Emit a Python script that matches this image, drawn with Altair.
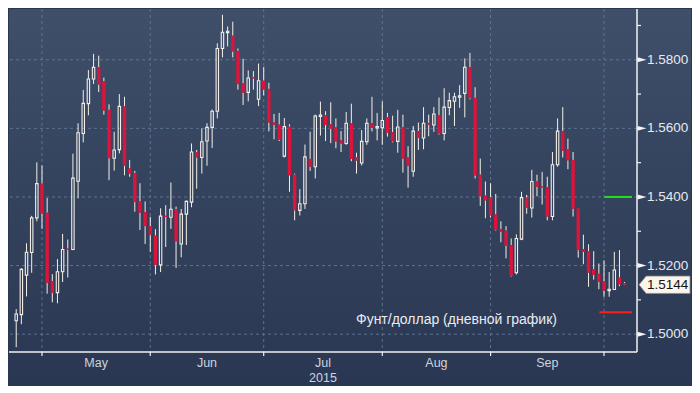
import altair as alt
import pandas as pd

# ---------------- data ----------------
opens = [1.5039, 1.5057, 1.5172, 1.5238, 1.5339, 1.5439, 1.5354, 1.5155, 1.5121, 1.5182,
         1.5249, 1.5247, 1.5446, 1.5585, 1.5672, 1.5744, 1.5778, 1.5737, 1.5654, 1.5513,
         1.5538, 1.5664, 1.5483, 1.5470, 1.5387, 1.5356, 1.5315, 1.5287, 1.5202, 1.5345,
         1.5341, 1.5364, 1.5263, 1.5350, 1.5385, 1.5531, 1.5515, 1.5563, 1.5603, 1.5650,
         1.5833, 1.5879, 1.5870, 1.5826, 1.5731, 1.5705, 1.5749, 1.5685, 1.5739, 1.5715,
         1.5617, 1.5611, 1.5519, 1.5605, 1.5465, 1.5361, 1.5380, 1.5511, 1.5488, 1.5635,
         1.5639, 1.5612, 1.5603, 1.5565, 1.5556, 1.5615, 1.5515, 1.5499, 1.5561, 1.5615,
         1.5602, 1.5602, 1.5632, 1.5589, 1.5562, 1.5604, 1.5515, 1.5475, 1.5592, 1.5572,
         1.5616, 1.5610, 1.5638, 1.5585, 1.5661, 1.5679, 1.5691, 1.5702, 1.5778, 1.5689,
         1.5465, 1.5404, 1.5399, 1.5349, 1.5306, 1.5302, 1.5260, 1.5179, 1.5277, 1.5398,
         1.5368, 1.5445, 1.5430, 1.5428, 1.5343, 1.5494, 1.5592, 1.5539, 1.5508, 1.5367,
         1.5248, 1.5242, 1.5190, 1.5176, 1.5154, 1.5127, 1.5130, 1.5165, 1.5149]
highs = [1.5073, 1.5192, 1.5265, 1.5345, 1.5501, 1.5492, 1.5397, 1.5175, 1.5219, 1.5292,
         1.5276, 1.5526, 1.5615, 1.5712, 1.5770, 1.5817, 1.5812, 1.5748, 1.5670, 1.5590,
         1.5700, 1.5692, 1.5508, 1.5476, 1.5440, 1.5387, 1.5342, 1.5306, 1.5367, 1.5376,
         1.5442, 1.5372, 1.5365, 1.5390, 1.5556, 1.5537, 1.5600, 1.5615, 1.5655, 1.5848,
         1.5931, 1.5897, 1.5911, 1.5833, 1.5803, 1.5769, 1.5767, 1.5789, 1.5779, 1.5733,
         1.5642, 1.5645, 1.5630, 1.5612, 1.5468, 1.5423, 1.5553, 1.5590, 1.5640, 1.5678,
         1.5650, 1.5676, 1.5629, 1.5592, 1.5648, 1.5672, 1.5529, 1.5595, 1.5629, 1.5692,
         1.5645, 1.5679, 1.5645, 1.5637, 1.5654, 1.5640, 1.5548, 1.5607, 1.5617, 1.5662,
         1.5640, 1.5662, 1.5690, 1.5717, 1.5704, 1.5704, 1.5726, 1.5804, 1.5820, 1.5720,
         1.5512, 1.5445, 1.5440, 1.5409, 1.5329, 1.5315, 1.5279, 1.5291, 1.5415, 1.5406,
         1.5479, 1.5465, 1.5473, 1.5459, 1.5531, 1.5629, 1.5662, 1.5570, 1.5531, 1.5367,
         1.5290, 1.5262, 1.5242, 1.5206, 1.5215, 1.5181, 1.5240, 1.5245, 1.5152]
lows = [1.4962, 1.5029, 1.5110, 1.5179, 1.5329, 1.5307, 1.5118, 1.5093, 1.5090, 1.5152,
        1.5165, 1.5245, 1.5396, 1.5559, 1.5638, 1.5729, 1.5706, 1.5640, 1.5449, 1.5477,
        1.5527, 1.5463, 1.5459, 1.5357, 1.5304, 1.5263, 1.5240, 1.5174, 1.5181, 1.5254,
        1.5307, 1.5193, 1.5224, 1.5260, 1.5370, 1.5424, 1.5468, 1.5491, 1.5543, 1.5629,
        1.5807, 1.5839, 1.5807, 1.5713, 1.5668, 1.5679, 1.5713, 1.5665, 1.5696, 1.5591,
        1.5568, 1.5563, 1.5515, 1.5415, 1.5332, 1.5346, 1.5365, 1.5476, 1.5454, 1.5579,
        1.5563, 1.5557, 1.5542, 1.5531, 1.5552, 1.5504, 1.5468, 1.5492, 1.5552, 1.5591,
        1.5565, 1.5552, 1.5576, 1.5559, 1.5529, 1.5471, 1.5427, 1.5459, 1.5537, 1.5539,
        1.5577, 1.5590, 1.5582, 1.5565, 1.5638, 1.5607, 1.5660, 1.5632, 1.5685, 1.5454,
        1.5374, 1.5338, 1.5340, 1.5302, 1.5268, 1.5221, 1.5168, 1.5174, 1.5274, 1.5351,
        1.5340, 1.5402, 1.5378, 1.5332, 1.5332, 1.5488, 1.5515, 1.5481, 1.5343, 1.5223,
        1.5204, 1.5138, 1.5159, 1.5131, 1.5109, 1.5109, 1.5130, 1.5140, 1.5143]
closes = [1.5059, 1.5189, 1.5239, 1.5339, 1.5439, 1.5351, 1.5149, 1.5121, 1.5182, 1.5247,
          1.5247, 1.5455, 1.5587, 1.5673, 1.5744, 1.5778, 1.5728, 1.5652, 1.5513, 1.5537,
          1.5664, 1.5491, 1.5468, 1.5385, 1.5354, 1.5315, 1.5290, 1.5202, 1.5344, 1.5342,
          1.5364, 1.5271, 1.5350, 1.5387, 1.5531, 1.5515, 1.5561, 1.5603, 1.5650, 1.5833,
          1.5880, 1.5883, 1.5824, 1.5729, 1.5704, 1.5747, 1.5746, 1.5739, 1.5713, 1.5617,
          1.5610, 1.5567, 1.5605, 1.5463, 1.5361, 1.5380, 1.5517, 1.5488, 1.5636, 1.5639,
          1.5610, 1.5599, 1.5562, 1.5556, 1.5615, 1.5511, 1.5506, 1.5562, 1.5615, 1.5601,
          1.5605, 1.5623, 1.5587, 1.5562, 1.5604, 1.5512, 1.5491, 1.5592, 1.5572, 1.5615,
          1.5610, 1.5642, 1.5585, 1.5662, 1.5681, 1.5692, 1.5695, 1.5778, 1.5688, 1.5463,
          1.5402, 1.5390, 1.5346, 1.5304, 1.5299, 1.5257, 1.5170, 1.5279, 1.5398, 1.5369,
          1.5445, 1.5429, 1.5428, 1.5343, 1.5494, 1.5592, 1.5534, 1.5507, 1.5366, 1.5245,
          1.5240, 1.5179, 1.5173, 1.5152, 1.5127, 1.5131, 1.5187, 1.5145, 1.5144]

month_starts = [5, 26, 48, 71, 92, 114]          # trading-day index of month boundaries
month_labels = ["May", "Jun", "Jul", "Aug", "Sep"]
month_label_pos = [15.5, 37, 59.5, 81.5, 103]
year_label = ["2015"]
year_label_pos = [59.5]

grid_levels = [1.50, 1.52, 1.54, 1.56, 1.58]
tick_levels = [1.50, 1.51, 1.52, 1.53, 1.54, 1.55, 1.56, 1.57, 1.58, 1.59]

last_price = [1.5144]
level_lines = [1.54, 1.5064]
level_from = [114.1, 113.1]
level_colors = ["#22e01e", "#ff1e1e"]

caption = ["Фунт/доллар (дневной график)"]
caption_x = [65.9]
caption_y = [1.5041]

X_DOMAIN = [-0.43, 119.43]
Y_DOMAIN = [1.4948, 1.5948]
W, H = 628, 343

# ---------------- frames ----------------
n = len(opens)
df = pd.DataFrame({"i": list(range(n)), "o": opens, "h": highs, "l": lows, "c": closes})
df["top"] = df[["o", "c"]].max(axis=1)
df["bot"] = df[["o", "c"]].min(axis=1)
mid = (df["top"] + df["bot"]) / 2
thin = (df["top"] - df["bot"]) < 0.0004
df["b1"] = df["top"].where(~thin, mid + 0.0002)
df["b2"] = df["bot"].where(~thin, mid - 0.0002)
df["up"] = df["c"] >= df["o"]

xs = alt.Scale(domain=X_DOMAIN, nice=False, zero=False)
ys = alt.Scale(domain=Y_DOMAIN, nice=False, zero=False)

FONT = "Liberation Sans"
AXC = "#f2f2f2"

bg = alt.Chart(pd.DataFrame({"a": [0]})).mark_rect(
    color=alt.Gradient(
        gradient="linear",
        stops=[alt.GradientStop(color="#3f4f6a", offset=0),
               alt.GradientStop(color="#36455f", offset=0.4),
               alt.GradientStop(color="#2a3752", offset=1)],
        x1=0, x2=0, y1=0, y2=1)
).encode(x=alt.value(0), x2=alt.value(W + 54), y=alt.value(0), y2=alt.value(H + 34))

GRID = "#5a7491"
hgrid = alt.Chart(pd.DataFrame({"v": grid_levels})).mark_rule(
    color=GRID, strokeDash=[3, 3], strokeWidth=1
).encode(y=alt.Y("v:Q", scale=ys, axis=None))
vgrid = alt.Chart(pd.DataFrame({"m": month_starts})).mark_rule(
    color=GRID, strokeDash=[3, 3], strokeWidth=1
).encode(x=alt.X("m:Q", scale=xs, axis=None))

# axes drawn as marks (domain lines, ticks, labels)
x_domain_line = alt.Chart(pd.DataFrame({"a": [0]})).mark_rule(color=AXC, strokeWidth=1.5).encode(
    x=alt.value(0), x2=alt.value(W), y=alt.value(H))
y_domain_line = alt.Chart(pd.DataFrame({"a": [0]})).mark_rule(color=AXC, strokeWidth=1.5).encode(
    x=alt.value(W), y=alt.value(0), y2=alt.value(H))
x_ticks = alt.Chart(pd.DataFrame({"m": month_starts})).mark_rule(color=AXC, strokeWidth=1.2).encode(
    x=alt.X("m:Q", scale=xs, axis=None), y=alt.value(H), y2=alt.value(H + 4))
y_ticks = alt.Chart(pd.DataFrame({"v": tick_levels})).mark_rule(color=AXC, strokeWidth=1.2).encode(
    y=alt.Y("v:Q", scale=ys, axis=None), x=alt.value(W), x2=alt.value(W + 4))
y_labels = alt.Chart(pd.DataFrame({"v": grid_levels})).mark_text(
    align="left", baseline="middle", fontSize=13.5, font=FONT, color="#e6eaf0"
).encode(x=alt.value(W + 10), y=alt.Y("v:Q", scale=ys, axis=None),
         text=alt.Text("v:Q", format=".4f"))

wick_up = alt.Chart(df).mark_rule(color="#f4efe8", strokeWidth=1).encode(
    x=alt.X("i:Q", scale=xs, axis=None),
    y=alt.Y("h:Q", scale=ys, axis=None),
    y2="top:Q")
wick_dn = alt.Chart(df).mark_rule(color="#f4efe8", strokeWidth=1).encode(
    x=alt.X("i:Q", scale=xs, axis=None),
    y=alt.Y("bot:Q", scale=ys, axis=None),
    y2="l:Q")

body_up = alt.Chart(df).transform_filter("datum.up").mark_bar(
    size=2.4, fillOpacity=0, stroke="#f4efe8", strokeWidth=1.1
).encode(x=alt.X("i:Q", scale=xs, axis=None),
         y=alt.Y("b1:Q", scale=ys, axis=None), y2="b2:Q")
body_dn = alt.Chart(df).transform_filter("!datum.up").mark_bar(
    size=3.4, color="#dc143c"
).encode(x=alt.X("i:Q", scale=xs, axis=None),
         y=alt.Y("b1:Q", scale=ys, axis=None), y2="b2:Q")

levels = alt.Chart(pd.DataFrame({"v": level_lines, "f": level_from, "col": level_colors,
                                 "t": [X_DOMAIN[1]] * 2})).mark_rule(strokeWidth=2).encode(
    x=alt.X("f:Q", scale=xs, axis=None), x2="t:Q",
    y=alt.Y("v:Q", scale=ys, axis=None),
    color=alt.Color("col:N", scale=None))

markers = alt.Chart(pd.DataFrame({"v": grid_levels})).mark_point(
    shape="M-1,-0.55L1,0L-1,0.55Z", filled=True, color="#f4f4f4", size=81, opacity=1
).encode(x=alt.value(W + 5), y=alt.Y("v:Q", scale=ys, axis=None))

price_box = alt.Chart(pd.DataFrame({"v": last_price})).mark_point(
    shape="M-1,0L-0.72,-0.34L1,-0.34L1,0.34L-0.72,0.34Z", filled=True,
    fill="#fbf5ea", stroke="#8a8a8a", strokeWidth=0.8, size=2601, opacity=1
).encode(x=alt.value(W + 27.5), y=alt.Y("v:Q", scale=ys, axis=None))
price_txt = alt.Chart(pd.DataFrame({"v": last_price})).mark_text(
    align="left", baseline="middle", fontSize=13.5, font=FONT, color="#151515"
).encode(x=alt.value(W + 10), y=alt.Y("v:Q", scale=ys, axis=None),
         text=alt.Text("v:Q", format=".4f"))

mlabels = alt.Chart(pd.DataFrame({"p": month_label_pos, "t": month_labels})).mark_text(
    align="center", baseline="middle", fontSize=12.5, font=FONT, color="#cdd4de"
).encode(x=alt.X("p:Q", scale=xs, axis=None), y=alt.value(H + 10.5), text="t:N")
ylabel = alt.Chart(pd.DataFrame({"p": year_label_pos, "t": year_label})).mark_text(
    align="center", baseline="middle", fontSize=12.5, font=FONT, color="#cdd4de"
).encode(x=alt.X("p:Q", scale=xs, axis=None), y=alt.value(H + 25.5), text="t:N")

cap = alt.Chart(pd.DataFrame({"x": caption_x, "y": caption_y, "t": caption})).mark_text(
    align="left", baseline="middle", fontSize=14, font=FONT, color="#e8ecf2"
).encode(x=alt.X("x:Q", scale=xs, axis=None), y=alt.Y("y:Q", scale=ys, axis=None), text="t:N")

chart = alt.layer(
    bg, hgrid, vgrid, wick_up, wick_dn, body_up, body_dn, levels,
    x_domain_line, y_domain_line, x_ticks, y_ticks, markers, y_labels,
    price_box, price_txt, mlabels, ylabel, cap
).properties(width=W, height=H, padding=0, background="#2a3752").configure_view(stroke=None)

chart.save("out.html", embed_options={"renderer": "svg", "actions": False})
